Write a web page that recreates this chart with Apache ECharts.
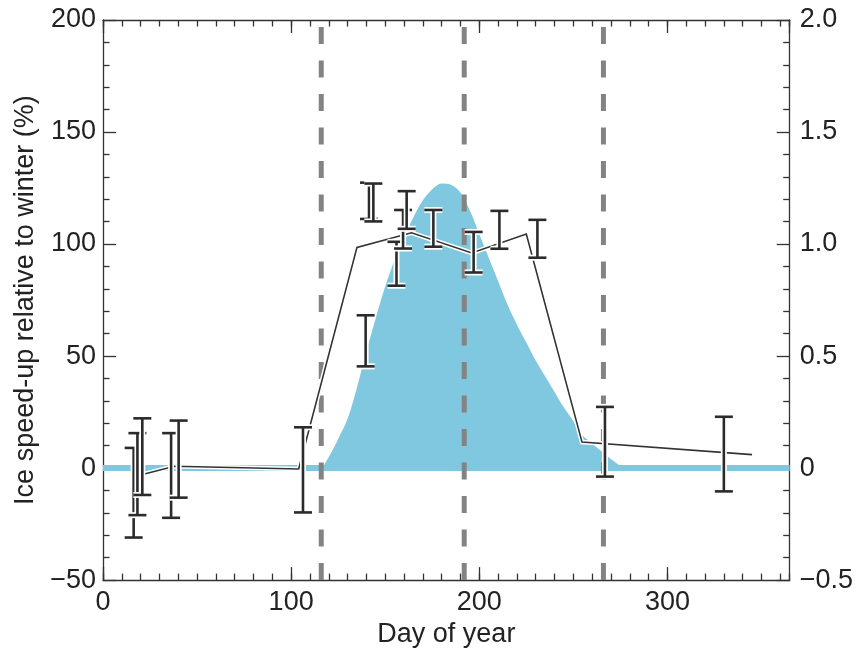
<!DOCTYPE html>
<html>
<head>
<meta charset="utf-8">
<script src="https://cdn.jsdelivr.net/npm/echarts@6/dist/echarts.min.js"></script>
<style>html,body{margin:0;padding:0;background:#fff}#c{width:856px;height:653px}</style>
</head>
<body>
<div id="c"></div>
<script>
// ---- Data ----
const xTickLabels = [0, 100, 200, 300];
const leftTicks = [-50, 0, 50, 100, 150, 200];
const rightTicks = [-0.5, 0, 0.5, 1.0, 1.5, 2.0];

// Blue filled curve (right axis units)
const meltDays   = [0, 115, 120, 125, 130, 135, 140, 145, 150, 155, 160, 165, 170, 175, 180, 185, 190, 195, 200, 205, 210, 215, 220, 225, 230, 235, 240, 245, 250, 255, 260, 265, 270, 275, 280, 365];
const meltValues = [0, 0, 0.05, 0.13, 0.22, 0.36, 0.52, 0.67, 0.81, 0.93, 1.03, 1.12, 1.195, 1.245, 1.27, 1.265, 1.23, 1.15, 1.045, 0.94, 0.835, 0.73, 0.64, 0.56, 0.48, 0.41, 0.34, 0.27, 0.21, 0.145, 0.11, 0.075, 0.04, 0.01, 0, 0];

// Thin black line (left axis, %)
const lineDays   = [22, 38, 104, 135, 164, 196, 225, 254.6, 345];
const lineValues = [-2.6, 0.8, -0.4, 98.5, 105, 96, 104.5, 11.6, 6];

// Error bars (left axis, %)
const ebDays = [16.3, 18.3, 20.9, 36.2, 40.2, 106.3, 141.4, 143.7, 139.6, 156, 159.5, 161.4, 175.6, 197, 210.7, 230.9, 266.8, 330];
const ebLow  = [-31, -21, -12, -22.2, -13.2, -19.8, 111.2, 110.1, 45.4, 81.4, 98, 106.8, 98.8, 87.3, 97.9, 93.9, -3.8, -10.4];
const ebHigh = [9, 15.6, 22.2, 15.6, 21.2, 18.2, 127.4, 127, 68.2, 101, 115.2, 123.6, 115.2, 105.4, 114.8, 110.8, 27.3, 22.9];

// Vertical dashed markers (day of year)
const dashDays = [116, 192, 266];

// ---- Chart ----
const FONT = "'Liberation Sans', Arial, Helvetica, sans-serif";
const TXT = '#222';
const AX = '#333';
const BLUE = '#80C8DF';
const FS = 27;

const chart = echarts.init(document.getElementById('c'), null, {renderer: 'canvas'});

function xAxisDef(pos, interval, major, withLabel) {
  return {
    type: 'value', position: pos, min: 0, max: 365, interval: interval,
    axisLine: {show: major, onZero: false, lineStyle: {color: AX, width: 1.3}},
    axisTick: {show: true, inside: true, length: major ? 13 : 6.5, lineStyle: {color: AX, width: 1.3}},
    axisLabel: {show: withLabel, showMaxLabel: false, margin: 9, fontSize: FS, fontFamily: FONT, color: TXT},
    splitLine: {show: false}
  };
}

const xAxes = [
  Object.assign(xAxisDef('bottom', 100, true, true), {
    name: 'Day of year', nameLocation: 'middle', nameGap: 35,
    nameTextStyle: {fontSize: FS, fontFamily: FONT, color: TXT, verticalAlign: 'top'}
  }),
  xAxisDef('bottom', 10, false, false),
  xAxisDef('top', 100, true, false),
  xAxisDef('top', 10, false, false)
];

const fmtLeft = v => (v < 0 ? '\u2212' : '') + Math.abs(v);
const fmtRight = v => v === 0 ? '0' : (v < 0 ? '\u2212' : '') + Math.abs(v).toFixed(1);

const yAxes = [
  {
    type: 'value', position: 'left', min: leftTicks[0], max: leftTicks[leftTicks.length - 1], interval: 50,
    axisLine: {show: true, onZero: false, lineStyle: {color: AX, width: 1.3}},
    axisTick: {show: true, inside: true, length: 13, lineStyle: {color: AX, width: 1.3}},
    minorTick: {show: true, splitNumber: 5, length: 6.5, lineStyle: {color: AX, width: 1.3}},
    axisLabel: {margin: 7, fontSize: FS, fontFamily: FONT, color: TXT, formatter: fmtLeft},
    splitLine: {show: false},
    name: 'Ice speed-up relative to winter (%)', nameLocation: 'middle', nameGap: 64, nameRotate: 90,
    nameTextStyle: {fontSize: FS, fontFamily: FONT, color: TXT}
  },
  {
    type: 'value', position: 'right', min: rightTicks[0], max: rightTicks[rightTicks.length - 1], interval: 0.5,
    axisLine: {show: true, onZero: false, lineStyle: {color: AX, width: 1.3}},
    axisTick: {show: true, inside: true, length: 13, lineStyle: {color: AX, width: 1.3}},
    minorTick: {show: true, splitNumber: 5, length: 6.5, lineStyle: {color: AX, width: 1.3}},
    axisLabel: {margin: 10, fontSize: FS, fontFamily: FONT, color: TXT, formatter: fmtRight},
    splitLine: {show: false}
  }
];

const series = [];

// blue filled curve
series.push({
  type: 'line', xAxisIndex: 0, yAxisIndex: 1, z: 1,
  data: meltDays.map((d, i) => [d, meltValues[i]]),
  smooth: 0.3, showSymbol: false, symbol: 'none',
  lineStyle: {width: 0, color: BLUE},
  areaStyle: {color: BLUE, opacity: 1},
  silent: true
});
// blue baseline band
series.push({
  type: 'line', xAxisIndex: 0, yAxisIndex: 1, z: 2,
  data: [[0, 0], [365, 0]], showSymbol: false, symbol: 'none',
  lineStyle: {width: 6, color: BLUE}, silent: true
});
// dashed markers
dashDays.forEach(d => {
  series.push({
    type: 'line', xAxisIndex: 0, yAxisIndex: 0, z: 3,
    data: [[d, leftTicks[0]], [d, leftTicks[leftTicks.length - 1]]],
    showSymbol: false, symbol: 'none',
    lineStyle: {width: 5, color: '#838383', type: [17, 16.5], cap: 'butt'}, silent: true
  });
});
// black line: white halo + line
series.push({
  type: 'line', xAxisIndex: 0, yAxisIndex: 0, z: 4,
  data: lineDays.map((d, i) => [d, lineValues[i]]),
  showSymbol: false, symbol: 'none',
  lineStyle: {width: 4.5, color: '#ffffff', join: 'miter'}, silent: true
});
series.push({
  type: 'line', xAxisIndex: 0, yAxisIndex: 0, z: 5,
  data: lineDays.map((d, i) => [d, lineValues[i]]),
  showSymbol: false, symbol: 'none',
  lineStyle: {width: 1.6, color: '#333333', join: 'miter'}, silent: true
});
// error bars
series.push({
  type: 'custom', xAxisIndex: 0, yAxisIndex: 0, z: 6,
  data: ebDays.map((d, i) => [d, ebLow[i], ebHigh[i]]),
  renderItem: function (params, api) {
    const x = api.value(0);
    const pLo = api.coord([x, api.value(1)]);
    const pHi = api.coord([x, api.value(2)]);
    const hw = 9;
    const segs = [
      [pHi[0], pHi[1], pLo[0], pLo[1]],
      [pHi[0] - hw, pHi[1], pHi[0] + hw, pHi[1]],
      [pLo[0] - hw, pLo[1], pLo[0] + hw, pLo[1]]
    ];
    const children = [];
    segs.forEach(s => children.push({
      type: 'line', shape: {x1: s[0], y1: s[1], x2: s[2], y2: s[3]},
      style: {stroke: '#ffffff', lineWidth: 6, lineCap: 'butt'}
    }));
    segs.forEach(s => children.push({
      type: 'line', shape: {x1: s[0], y1: s[1], x2: s[2], y2: s[3]},
      style: {stroke: '#2b2b2b', lineWidth: 2.6, lineCap: 'butt'}
    }));
    return {type: 'group', children: children};
  },
  silent: true
});

chart.setOption({
  animation: false,
  backgroundColor: '#ffffff',
  grid: {left: 103, right: 60, top: 20, bottom: 66, containLabel: false},
  xAxis: xAxes,
  yAxis: yAxes,
  series: series
});
</script>
</body>
</html>
